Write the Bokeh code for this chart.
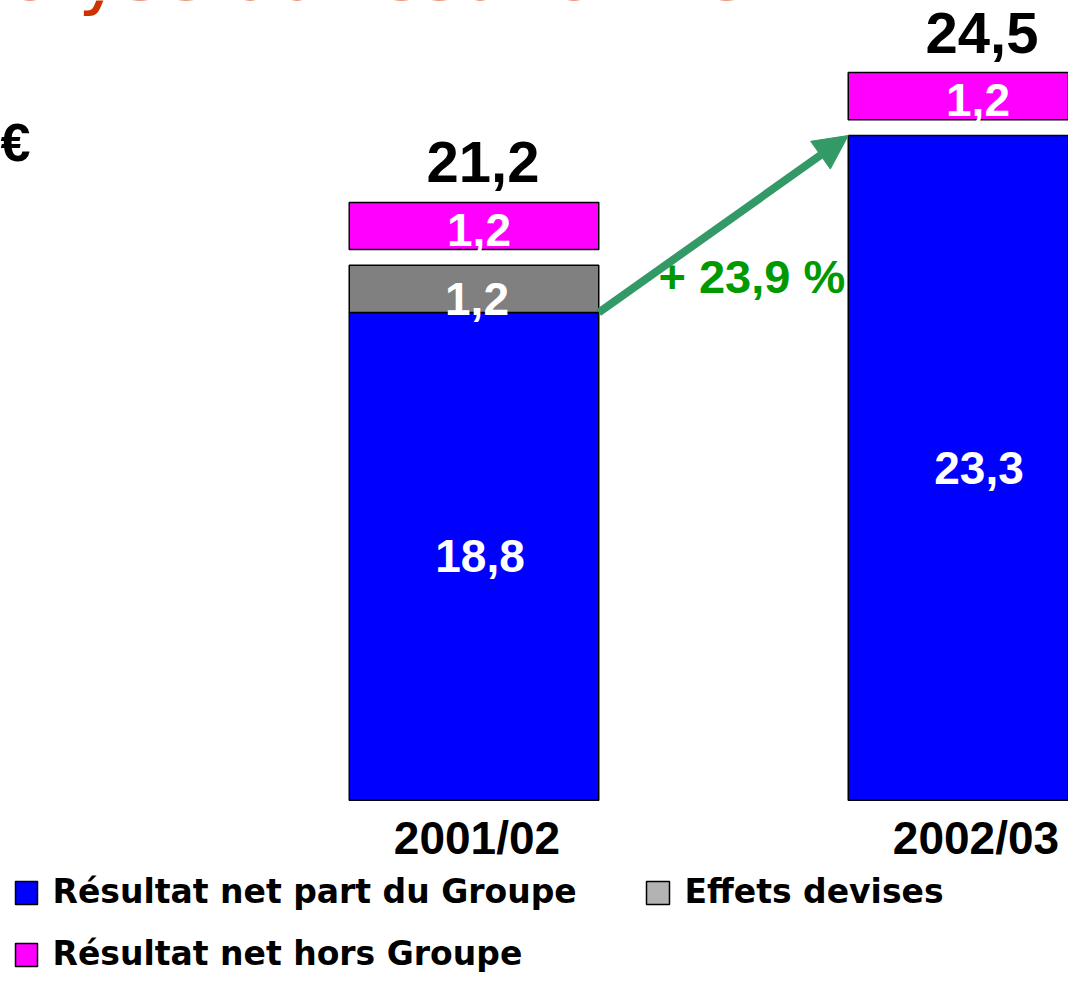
from bokeh.plotting import figure
from bokeh.models import Range1d, Arrow, NormalHead, Label, BoxAnnotation
from bokeh.core.properties import value
from bokeh.embed import file_html
from bokeh.resources import INLINE

# ---------------- data ----------------
periods = ["2001/02", "2002/03"]
part_groupe = [18.8, 23.3]        # Résultat net part du Groupe
effets_devises = [1.2, 0.0]       # Effets devises
hors_groupe = [1.2, 1.2]          # Résultat net hors Groupe
totals = [21.2, 24.5]
legend_labels = ["Résultat net part du Groupe", "Effets devises", "Résultat net hors Groupe"]
title_text = "Analyse du résultat net"
unit_text = "€"

# ---------------- style ----------------
BLUE = "#0000FF"
GREY = "#808080"
GREY_SWATCH = "#B3B3B3"
PINK = "#FF00FF"
GREEN_ARROW = "#339966"
GREEN_TEXT = "#009900"
TITLE_COL = "#CC3300"
FONT = value("Liberation Sans")
AXIS_BASE = 6.4     # the value axis is cut here
GAP = 0.4           # gap before the "hors Groupe" block
BAR_W = 0.5

def fmt(v):
    return f"{v:.1f}".replace(".", ",")

xs = list(range(len(periods)))

p = figure(width=1068, height=975,
           x_range=Range1d(-0.9489, 1.1914), y_range=Range1d(1.943, 26.733),
           x_axis_location=None, y_axis_location=None,
           output_backend="svg", toolbar_location=None, min_border=0)
p.grid.visible = False
p.outline_line_color = None
p.background_fill_color = "white"

# blue segments
p.vbar(x=xs, width=BAR_W, bottom=AXIS_BASE, top=part_groupe,
       fill_color=BLUE, line_color="black", line_width=1.5)

# grey segments (only where non-zero)
gx = [x for x, e in zip(xs, effets_devises) if e > 0]
gb = [pg for pg, e in zip(part_groupe, effets_devises) if e > 0]
gt = [pg + e for pg, e in zip(part_groupe, effets_devises) if e > 0]
p.vbar(x=gx, width=BAR_W, bottom=gb, top=gt,
       fill_color=GREY, line_color="black", line_width=1.5)

# pink segments
pb = [pg + e + GAP for pg, e in zip(part_groupe, effets_devises)]
pt = [b + h for b, h in zip(pb, hors_groupe)]
p.vbar(x=xs, width=BAR_W, bottom=pb, top=pt,
       fill_color=PINK, line_color="black", line_width=1.5)

TXT = dict(text_font=FONT, text_font_style="bold", text_align="center", text_baseline="middle")

# labels inside blue
p.text(x=xs, y=[(AXIS_BASE + v) / 2 for v in part_groupe], text=[fmt(v) for v in part_groupe],
       x_offset=6, y_offset=0, text_font_size="46px", text_color="white", **TXT)

# labels inside grey (they sit low and overflow the segment, as on the slide)
p.text(x=gx, y=gb, text=[fmt(e) for e in effets_devises if e > 0],
       x_offset=3, y_offset=-14, text_font_size="46px", text_color="white", **TXT)

# labels inside pink
p.text(x=xs, y=pb, text=[fmt(h) for h in hors_groupe],
       x_offset=5, y_offset=-20, text_font_size="46px", text_color="white", **TXT)

# totals above
p.text(x=xs, y=pt, text=[fmt(t) for t in totals],
       x_offset=9, y_offset=-40, text_font_size="58px", text_color="black", **TXT)

# period labels below
p.text(x=xs, y=[AXIS_BASE] * len(xs), text=periods,
       x_offset=3, y_offset=38, text_font_size="46px", text_color="black", **TXT)

# growth arrow
x0, y0 = xs[0] + BAR_W / 2, part_groupe[0]
x1, y1 = xs[1] - BAR_W / 2, part_groupe[1]
p.add_layout(Arrow(x_start=x0, y_start=y0, x_end=x1, y_end=y1,
                   line_color=GREEN_ARROW, line_width=8,
                   end=NormalHead(size=34, fill_color=GREEN_ARROW, line_color=GREEN_ARROW, line_width=1)))
growth = (part_groupe[1] / part_groupe[0] - 1) * 100
p.text(x=[x1], y=[y0], text=["+ " + fmt(growth) + " %"],
       x_offset=-3, y_offset=-36, text_font=FONT, text_font_style="bold",
       text_align="right", text_baseline="middle",
       text_font_size="47px", text_color=GREEN_TEXT)

# title (cut off at top, as in the slide crop) and unit
p.add_layout(Label(x=-86, y=1002, x_units="screen", y_units="screen", text=title_text,
                   text_font="DejaVu Sans", text_font_size="74px", text_color=TITLE_COL,
                   text_baseline="alphabetic", text_align="left"))
p.add_layout(Label(x=0, y=834, x_units="screen", y_units="screen", text=unit_text,
                   text_font="Liberation Sans", text_font_style="bold", text_font_size="54px",
                   text_color="black", text_baseline="alphabetic", text_align="left"))

# legend (manual, two columns)
swatches = [(15, 37, 71, 94, BLUE), (646, 669, 71, 94, GREY_SWATCH), (15, 37, 9, 32, PINK)]
text_pos = [(52, 84), (684, 84), (52, 22)]
for (l, r, b, t, c), (tx, ty), lab in zip(swatches, text_pos, legend_labels):
    p.add_layout(BoxAnnotation(left=l, right=r, bottom=b, top=t,
                               left_units="screen", right_units="screen",
                               bottom_units="screen", top_units="screen",
                               fill_color=c, fill_alpha=1, line_color="black", line_width=1.5,
                               line_alpha=1))
    p.add_layout(Label(x=tx, y=ty, x_units="screen", y_units="screen", text=lab,
                       text_font="DejaVu Sans", text_font_style="bold",
                       text_font_size="33px", text_color="black",
                       text_baseline="alphabetic", text_align="left"))

open("out.html", "w").write(file_html(p, INLINE))
